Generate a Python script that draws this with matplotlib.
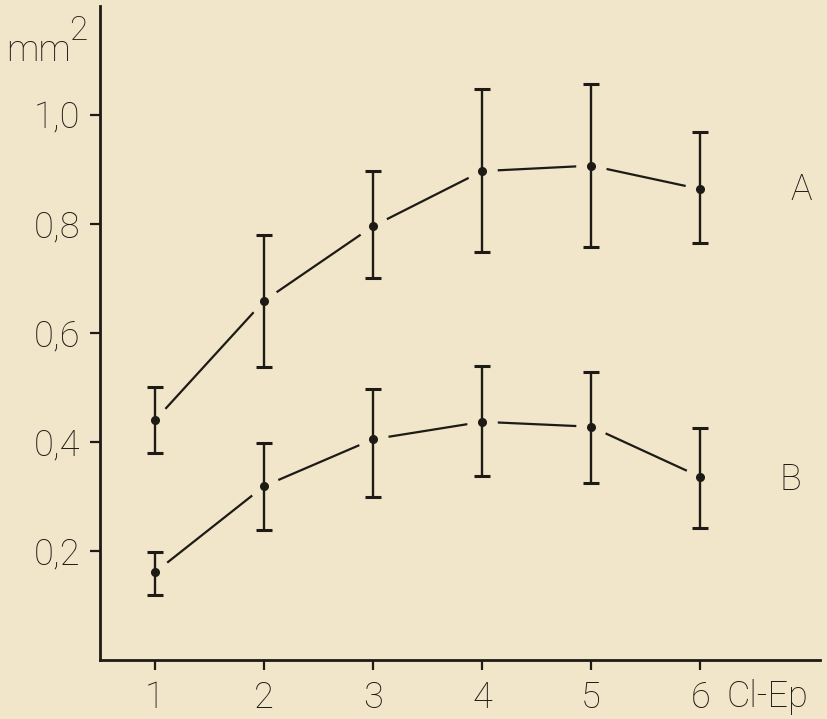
import numpy as np
import matplotlib
matplotlib.use("Agg")
import matplotlib.pyplot as plt

# values (mm^2 per class)
classes = [1, 2, 3, 4, 5, 6]
a_mean = [0.44, 0.659, 0.796, 0.897, 0.907, 0.864]
a_low = [0.380, 0.538, 0.700, 0.749, 0.757, 0.765]
a_high = [0.500, 0.779, 0.898, 1.047, 1.056, 0.969]
b_mean = [0.161, 0.319, 0.405, 0.437, 0.428, 0.336]
b_low = [0.119, 0.239, 0.299, 0.338, 0.325, 0.243]
b_high = [0.199, 0.399, 0.497, 0.539, 0.528, 0.425]
y_ticks = [0.2, 0.4, 0.6, 0.8, 1.0]
y_labels = ['0,2', '0,4', '0,6', '0,8', '1,0']

bg = '#f1e6ca'
ink = '#1e1a16'
fs = 26

plt.rcParams['font.family'] = ['Roboto', 'DejaVu Sans']

fig = plt.figure(figsize=(8.28, 7.19), dpi=100, facecolor=bg)
ax = fig.add_axes([0.1208, 0.0821, 0.8696, 0.9096], facecolor=bg)

for mean, low, high in [(a_mean, a_low, a_high), (b_mean, b_low, b_high)]:
    mean = np.array(mean)
    err = [mean - np.array(low), np.array(high) - mean]
    ax.plot(classes, mean, color=ink, lw=1.6, zorder=1)
    # background blobs make the little gaps round each point
    ax.plot(classes, mean, ls='none', marker='o', ms=22,
            mfc=bg, mec='none', zorder=2)
    ax.errorbar(classes, mean, yerr=err, fmt='o', ms=5.5, color=ink,
                elinewidth=1.7, capsize=5.5, capthick=2.2, zorder=3)

ax.text(6.93, 0.862, 'A', fontsize=fs, fontweight='light', color=ink,
        ha='center', va='center')
ax.text(6.83, 0.33, 'B', fontsize=fs, fontweight='light', color=ink,
        ha='center', va='center')

ax.set_xlim(0.495, 7.1)
ax.set_ylim(0, 1.2)
ax.set_xticks(classes)
ax.set_xticklabels([str(c) for c in classes])
ax.set_yticks(y_ticks)
ax.set_yticklabels(y_labels)

for s in ['top', 'right']:
    ax.spines[s].set_visible(False)
for s in ['left', 'bottom']:
    ax.spines[s].set_linewidth(2.0)
    ax.spines[s].set_color(ink)

ax.tick_params(direction='out', length=7.5, width=1.6, colors=ink,
               labelsize=fs, pad=7)
for t in ax.get_xticklabels() + ax.get_yticklabels():
    t.set_fontweight('light')

ax.text(6.24, -0.0675, 'Cl-Ep', fontsize=fs, fontweight='light', color=ink,
        ha='left', va='center', clip_on=False)
fig.text(0.008, 0.915, 'mm', fontsize=fs, fontweight='light', color=ink,
         ha='left', va='baseline')
fig.text(0.084, 0.945, '2', fontsize=24, fontweight='light', color=ink,
         ha='left', va='baseline')

fig.savefig('out.png', dpi=100, facecolor=bg)
